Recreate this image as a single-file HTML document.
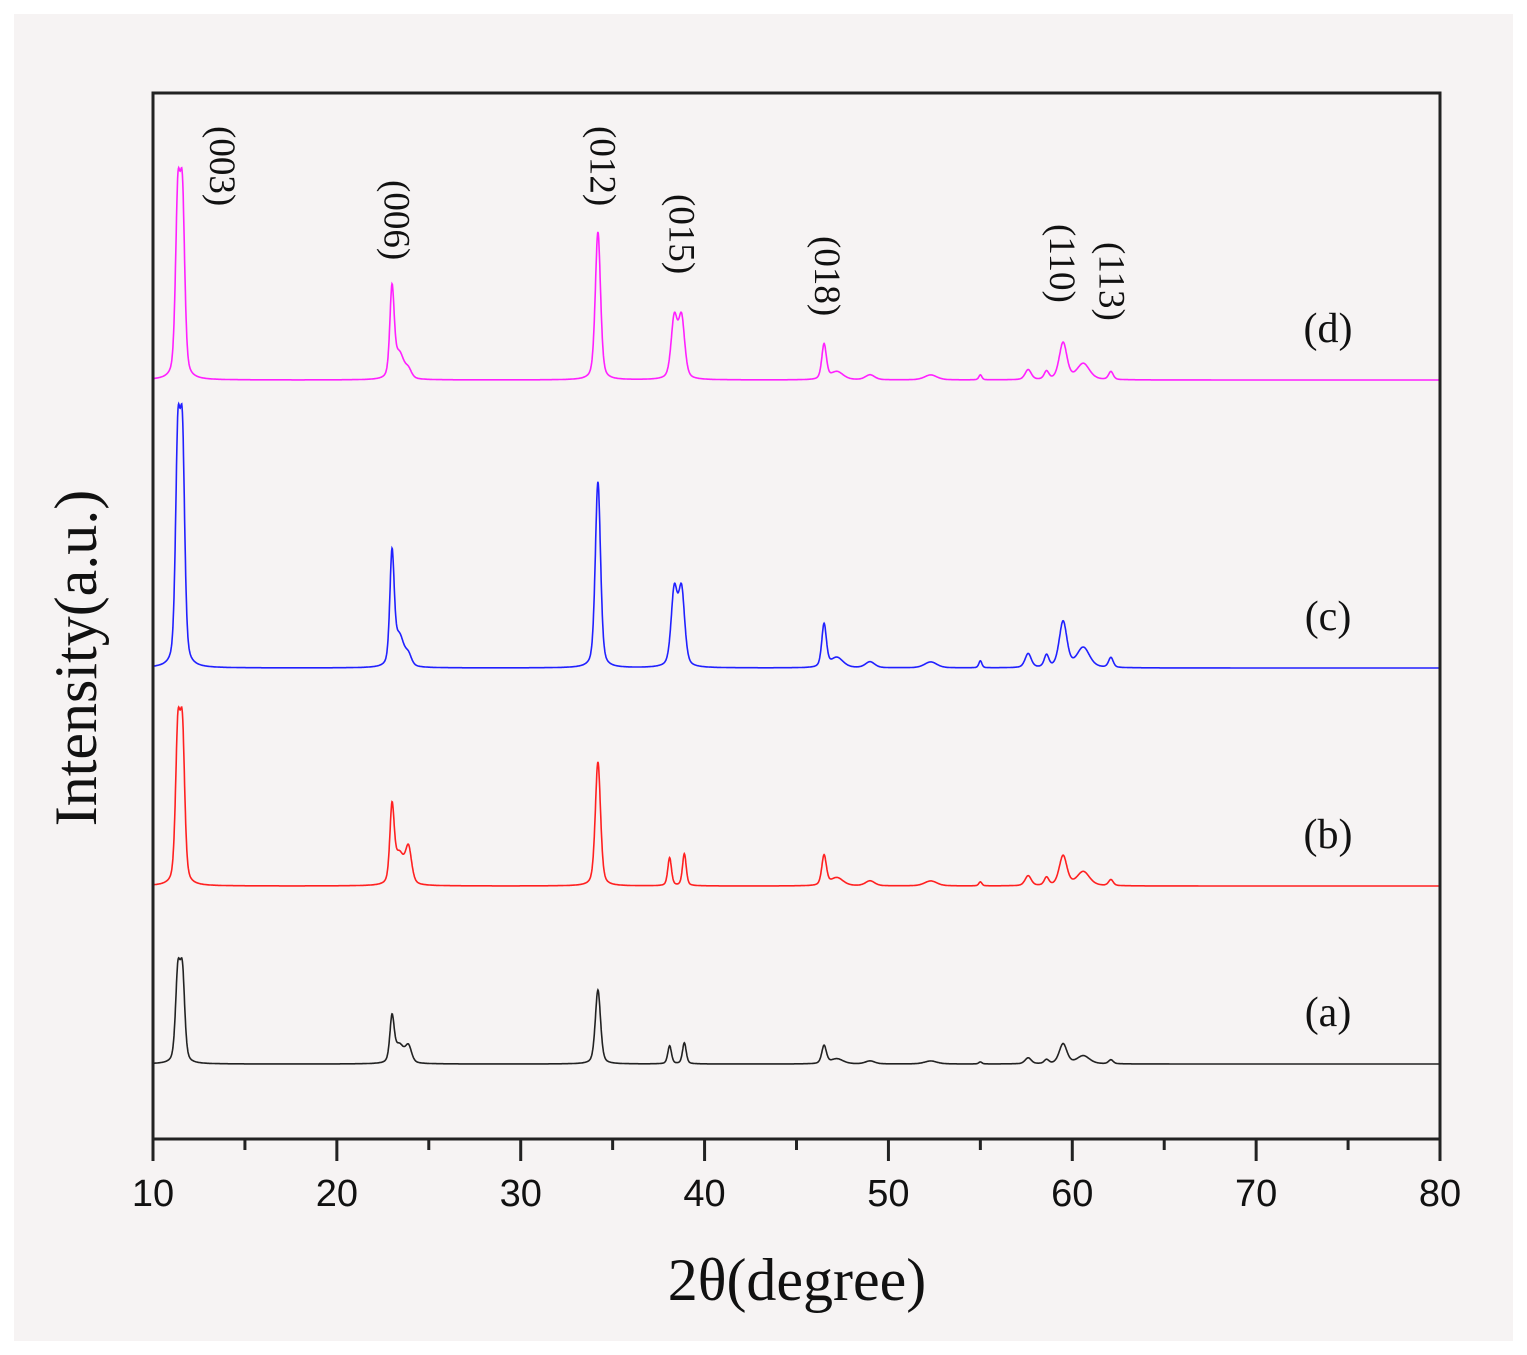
<!DOCTYPE html>
<html><head><meta charset="utf-8"><style>
html,body{margin:0;padding:0;background:#fff;}
svg{display:block;}
</style></head><body>
<svg id="chart" width="1527" height="1355" viewBox="0 0 1527 1355" xmlns="http://www.w3.org/2000/svg">
<rect x="14" y="14" width="1499" height="1327" fill="#f6f3f3"/>
<g id="marks"></g>
<g id="axes"></g>
</svg>
<script>
const xTicks=[10,20,30,40,50,60,70,80];
const peakPos=[11.35,11.6,23.0,23.4,23.9,34.2,38.35,38.75,46.5,47.2,49.0,52.3,55.0,57.6,58.6,59.5,60.6,62.1,38.1,38.9];
const peakWidth=[0.15,0.15,0.14,0.3,0.2,0.17,0.2,0.2,0.15,0.4,0.3,0.4,0.1,0.2,0.15,0.25,0.4,0.15,0.12,0.12];
const seriesNames=["(a)","(b)","(c)","(d)"];
const seriesColors=["#222222","#ff2020","#2020ff","#ff20ff"];
const seriesOffset=[0,1.78,3.96,6.84];
const heightsA=[86,86,44,18,16,74,0,0,18,5,3,3,2,6,4,20,8,4,18,21];
const heightsB=[145,145,74,30,35,124,0,0,30,8,5,5,4,10,8,30,14,6,28,32];
const heightsC=[214,214,110,30,10,186,75,75,43,10,6,6,7,14,12,46,20,10,0,0];
const heightsD=[172,172,88,25,8,148,60,60,35,8,5,5,5,10,8,37,16,8,0,0];
const seriesHeights=[heightsA,heightsB,heightsC,heightsD];
const hklLabels=["(003)","(006)","(012)","(015)","(018)","(110)","(113)"];
const hklPos=[13.8,23.3,34.5,38.8,46.7,59.5,62.2];
const hklTopY=[126,180,126,194,236,224,242];

const NS="http://www.w3.org/2000/svg";
const L=153,R=1440,T=93,B=1139;
const xs=v=>L+(v-10)*(R-L)/70;
const ys=(off,h)=>1064-off*100-h;
const marks=document.getElementById('marks');
const axes=document.getElementById('axes');
function mk(tag,attrs,parent){const e=document.createElementNS(NS,tag);for(const k in attrs)e.setAttribute(k,attrs[k]);parent.appendChild(e);return e;}

seriesNames.forEach((nm,si)=>{
  const hs=seriesHeights[si];
  let d="";
  for(let x=10;x<=80.0001;x+=0.02){
    let y=0;
    for(let p=0;p<peakPos.length;p++){
      const u=(x-peakPos[p])/peakWidth[p];
      y+=hs[p]*(0.6*Math.exp(-u*u*0.693)+0.4/(1+u*u));
    }
    d+=(d?"L":"M")+xs(x).toFixed(1)+","+ys(seriesOffset[si],y).toFixed(1);
  }
  const path=mk('path',{d:d,fill:'none',stroke:seriesColors[si],'stroke-width':1.6},marks);
  
  
  const t=mk('text',{x:1328,y:ys(seriesOffset[si],0)-38,'text-anchor':'middle','font-family':'Liberation Serif, serif','font-size':42,fill:'#111'},marks);
  t.textContent=nm;
  
  
});

hklLabels.forEach((lb,i)=>{
  const x=xs(hklPos[i]);
  const t=mk('text',{x:0,y:0,transform:`translate(${x-13},${hklTopY[i]}) rotate(90)`,'font-family':'Liberation Serif, serif','font-size':37,fill:'#111'},marks);
  t.textContent=lb;
  
  
});

const frame=mk('rect',{x:L,y:T,width:R-L,height:B-T,fill:'none',stroke:'#222','stroke-width':3},axes);


for(let v=10;v<=80;v+=5){
  const major=v%10===0;
  const tk=mk('line',{x1:xs(v),x2:xs(v),y1:B,y2:B+(major?22:11),stroke:'#222','stroke-width':3},axes);
  
  
}
xTicks.forEach(v=>{
  const t=mk('text',{x:xs(v),y:1206,'text-anchor':'middle','font-family':'Liberation Sans, sans-serif','font-size':38,fill:'#111'},axes);
  t.textContent=v;
  
  
});
const xt=mk('text',{x:797,y:1300,'text-anchor':'middle','font-family':'Liberation Serif, serif','font-size':60,fill:'#111'},axes);
xt.textContent="2θ(degree)";


const yt=mk('text',{x:0,y:0,transform:'translate(96,658) rotate(-90)','text-anchor':'middle','font-family':'Liberation Serif, serif','font-size':60,fill:'#111'},axes);
yt.textContent="Intensity(a.u.)";


</script>
</body></html>
